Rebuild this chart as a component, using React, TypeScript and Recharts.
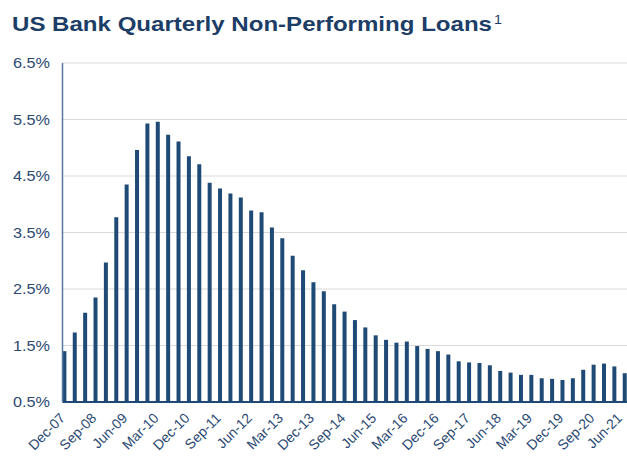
import React from 'react';
import { BarChart, Bar, XAxis, YAxis, CartesianGrid } from 'recharts';

const quarters = [
  'Dec-07',
  'Mar-08', 'Jun-08', 'Sep-08', 'Dec-08',
  'Mar-09', 'Jun-09', 'Sep-09', 'Dec-09',
  'Mar-10', 'Jun-10', 'Sep-10', 'Dec-10',
  'Mar-11', 'Jun-11', 'Sep-11', 'Dec-11',
  'Mar-12', 'Jun-12', 'Sep-12', 'Dec-12',
  'Mar-13', 'Jun-13', 'Sep-13', 'Dec-13',
  'Mar-14', 'Jun-14', 'Sep-14', 'Dec-14',
  'Mar-15', 'Jun-15', 'Sep-15', 'Dec-15',
  'Mar-16', 'Jun-16', 'Sep-16', 'Dec-16',
  'Mar-17', 'Jun-17', 'Sep-17', 'Dec-17',
  'Mar-18', 'Jun-18', 'Sep-18', 'Dec-18',
  'Mar-19', 'Jun-19', 'Sep-19', 'Dec-19',
  'Mar-20', 'Jun-20', 'Sep-20', 'Dec-20',
  'Mar-21', 'Jun-21',
];

// non-performing loans, % of total loans
const nplRatio = [
  1.40,
  1.73, 2.08, 2.35, 2.97,
  3.77, 4.35, 4.96, 5.43,
  5.46, 5.23, 5.11, 4.85,
  4.71, 4.38, 4.28, 4.19,
  4.12, 3.89, 3.86, 3.59,
  3.40, 3.09, 2.83, 2.62,
  2.46, 2.23, 2.10, 1.95,
  1.82, 1.68, 1.60, 1.55,
  1.57, 1.49, 1.44, 1.40,
  1.34, 1.22, 1.20, 1.19,
  1.15, 1.05, 1.02, 0.98,
  0.98, 0.92, 0.91, 0.89,
  0.92, 1.07, 1.16, 1.18,
  1.13, 1.01,
];

const yTicks = [0.5, 1.5, 2.5, 3.5, 4.5, 5.5, 6.5];

const data = quarters.map((q, i) => ({ idx: i, quarter: q, npl: nplRatio[i] }));
const xTicks = data.filter((d) => d.idx % 3 === 0).map((d) => d.idx);

const NAVY = '#1f4a76';
const LABEL = '#2c4a73';

const YTick = (props: any) => {
  const { y, payload } = props;
  return (
    <text x={50} y={y} dy={5} textAnchor="end" fontSize={14} fill={LABEL}
      fontFamily="Liberation Sans, Arial, sans-serif" textLength={37} lengthAdjust="spacingAndGlyphs">
      {payload.value.toFixed(1)}%
    </text>
  );
};

const XTick = (props: any) => {
  const { x, y, payload } = props;
  const tx = Math.min(x + 1.5, 623);
  const ty = y + 9;
  return (
    <text x={tx} y={ty} textAnchor="end" fontSize={14} fill={LABEL}
      fontFamily="Liberation Sans, Arial, sans-serif" transform={`rotate(-45 ${tx} ${ty})`}>
      {quarters[payload.value]}
    </text>
  );
};

export default function App() {
  return (
    <div style={{ position: 'absolute', left: 0, top: 0, width: 627, height: 457, background: '#fff' }}>
      <svg width={627} height={50} style={{ position: 'absolute', left: 0, top: 0 }}>
        <text x={12} y={31} fontSize={21} fontWeight="bold" fill="#1c3d66"
          fontFamily="Liberation Sans, Arial, sans-serif" textLength={480} lengthAdjust="spacingAndGlyphs">
          US Bank Quarterly Non-Performing Loans
        </text>
        <text x={494} y={24} fontSize={13} fill="#1c3d66" fontFamily="Liberation Sans, Arial, sans-serif"
          textLength={8} lengthAdjust="spacingAndGlyphs">1</text>
      </svg>
      <BarChart width={627} height={457} data={data} margin={{ top: 63, right: 0, bottom: 0, left: 0 }}>
        <CartesianGrid vertical={false} stroke="#d9d9d9" strokeWidth={1.2} />
        <XAxis dataKey="idx" type="number" domain={[-0.2, 54.2]} ticks={xTicks} interval={0}
          tick={<XTick />} tickLine={false} height={55} stroke={NAVY} strokeWidth={2} />
        <YAxis domain={[0.5, 6.5]} ticks={yTicks} width={62.5} tick={<YTick />} tickLine={false}
          stroke="#55799f" strokeWidth={1.5} allowDataOverflow />
        <Bar dataKey="npl" fill={NAVY} barSize={4} isAnimationActive={false} />
      </BarChart>
    </div>
  );
}
